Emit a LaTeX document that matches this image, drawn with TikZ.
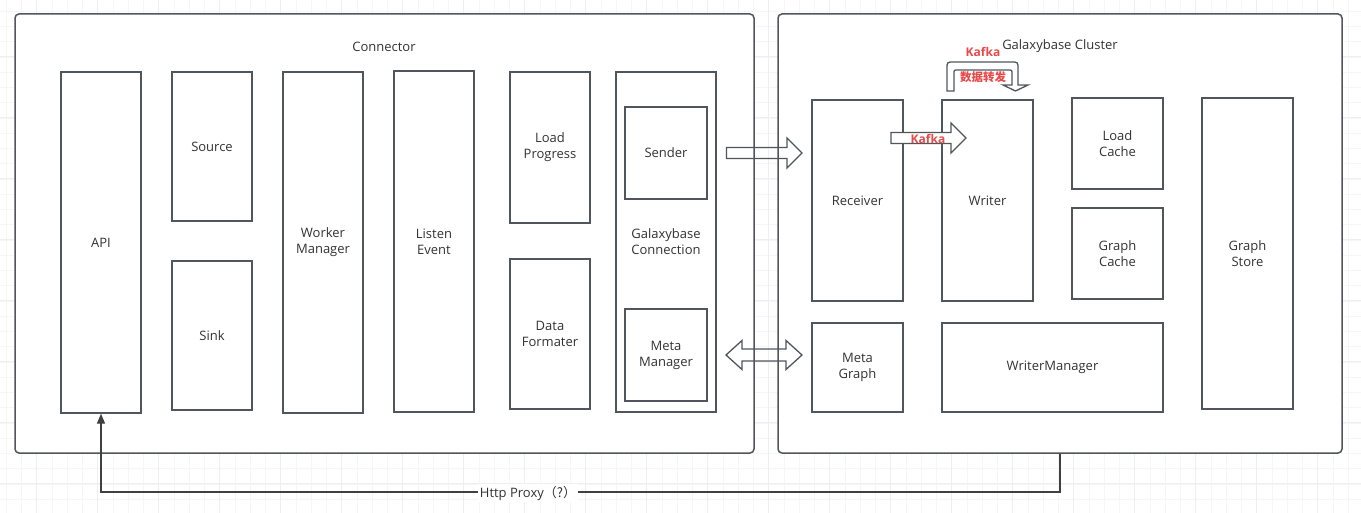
\documentclass[tikz,border=0pt]{standalone}
\usepackage{fontspec}
\setmainfont{Open Sans}
\newfontfamily\cjk{Noto Sans CJK SC}
\usetikzlibrary{arrows.meta}
\definecolor{lc}{HTML}{51565C}
\definecolor{tc}{HTML}{333333}
\definecolor{kred}{HTML}{E84A4A}
\definecolor{gminor}{HTML}{F6F6F6}
\definecolor{gmajor}{HTML}{EFEFEF}
\begin{document}
\begin{tikzpicture}[x=1pt,y=-1pt,
  font=\fontsize{13}{16}\selectfont,
  outerbox/.style={draw=lc,line width=1.5pt,rounded corners=4pt,inner sep=0pt},
  blk/.style={draw=lc,line width=1.3pt,align=center,inner sep=0pt,text=tc},
  title/.style={text=tc,inner sep=0pt},
  barrow/.style={draw=lc,line width=1.3pt,line join=miter},
  redlbl/.style={text=kred,inner sep=0pt,font=\fontsize{12}{14}\selectfont\bfseries},
  link/.style={draw=black!75,line width=1.3pt,-{Triangle[length=10pt,width=8pt]}}
]
\fill[white] (0,0) rectangle (1361,513);
\useasboundingbox (0,0) rectangle (1361,513);
% grid
\foreach \i in {0,...,89} \draw[gminor,line width=0.8pt] ({6.2+15.25*\i},0) -- ({6.2+15.25*\i},513);
\foreach \j in {0,...,33} \draw[gminor,line width=0.8pt] (0,{11.25+15.25*\j}) -- (1361,{11.25+15.25*\j});
\foreach \i in {0,...,22} \draw[gmajor,line width=0.9pt] ({36.7+61*\i},0) -- ({36.7+61*\i},513);
\foreach \j in {0,...,8} \draw[gmajor,line width=0.9pt] (0,{56+61*\j}) -- (1361,{56+61*\j});

% outer containers
\node[outerbox,fill=white,minimum width=739,minimum height=439] (conn) at (384.5,233.5) {};
\node[outerbox,fill=white,minimum width=564,minimum height=439] (cluster) at (1060,233.5) {};
\node[title] (conntitle) at (384,46.5) {Connector};
\node[title] (clustertitle) at (1060,46.5) {Galaxybase Cluster};

% connector parts
\node[blk,minimum width=80,minimum height=341] (api) at (101,242.5) {API};
\node[blk,minimum width=80,minimum height=149] (source) at (212,146.5) {Source};
\node[blk,minimum width=80,minimum height=149] (sink) at (212,335.5) {Sink};
\node[blk,minimum width=80,minimum height=341] (worker) at (323,242.5) {Worker\\Manager};
\node[blk,minimum width=80,minimum height=341] (listen) at (434,241.5) {Listen\\Event};
\node[blk,minimum width=80,minimum height=151] (loadp) at (550,147.5) {Load\\Progress};
\node[blk,minimum width=80,minimum height=150] (dataf) at (550,334) {Data\\Formater};
\node[blk,minimum width=100,minimum height=340] (gconn) at (666,242) {Galaxybase\\Connection};
\node[blk,minimum width=82,minimum height=92] (sender) at (666,153) {Sender};
\node[blk,minimum width=82,minimum height=92] (metam) at (666,355) {Meta\\Manager};

% cluster parts
\node[blk,minimum width=91,minimum height=201] (receiver) at (857.5,200.5) {Receiver};
\node[blk,minimum width=91,minimum height=201] (writer) at (987.5,200.5) {Writer};
\node[blk,minimum width=91,minimum height=91] (loadc) at (1117.5,143.5) {Load\\Cache};
\node[blk,minimum width=91,minimum height=91] (graphc) at (1117.5,253.5) {Graph\\Cache};
\node[blk,minimum width=91,minimum height=311] (graphs) at (1247.5,253.5) {Graph\\Store};
\node[blk,minimum width=91,minimum height=89] (metag) at (857.5,367.5) {Meta\\Graph};
\node[blk,minimum width=221,minimum height=89] (wm) at (1052.5,367.5) {WriterManager};

% block arrows between the two sides
\draw[barrow] (726.5,147.5) -- (787,147.5) -- (787,138) -- (802,153) -- (787,168) -- (787,158.5) -- (726.5,158.5) -- cycle;
\draw[barrow] (726,355) -- (742,340.5) -- (742,349) -- (786,349) -- (786,340.5) -- (802,355) -- (786,369.5) -- (786,361) -- (742,361) -- (742,369.5) -- cycle;

% Kafka arrow receiver -> writer
\filldraw[barrow,fill=white] (891,132.5) -- (951,132.5) -- (951,123) -- (966,138) -- (951,153) -- (951,143.5) -- (891,143.5) -- cycle;
\node[redlbl] (kafka1) at (928,139) {Kafka};

% U-turn arrow on top of writer
\filldraw[barrow,fill=white] (947,91) -- (947,69) .. controls (947,62) .. (954,62) -- (1011,62) .. controls (1018,62) .. (1018,69) -- (1018,85) -- (1028,85) -- (1015.5,91) -- (1003,85) -- (1012,85) -- (1012,74) .. controls (1012,70) .. (1008,70) -- (958,70) .. controls (954,70) .. (954,74) -- (954,91) -- cycle;
\node[redlbl] (kafka2) at (983,52) {Kafka};
\node[redlbl,font=\fontsize{11.5}{14}\selectfont\cjk\bfseries] (fwd) at (983,77.5) {数据转发};

% Http proxy link
\coordinate (c1) at (1060,492);
\coordinate (c2) at (101,492);
\draw[link] (cluster.south) -- (c1) -- (c2) -- (api.south);
\node[fill=white,text=tc,inner sep=1.5pt] (proxy) at (528,493) {Http Proxy{\cjk（?）}};
\end{tikzpicture}
\end{document}
